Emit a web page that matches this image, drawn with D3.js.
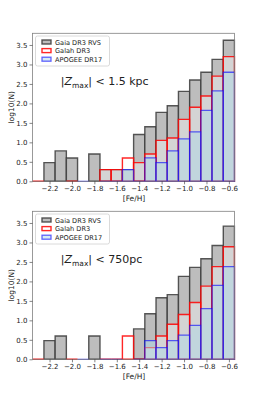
<!DOCTYPE html>
<html>
<head>
<meta charset="utf-8">
<script src="https://cdn.jsdelivr.net/npm/d3@7"></script>
<style>
  body { margin: 0; background: #fff; }
  svg text { font-family: "DejaVu Sans", sans-serif; fill: #222; }
</style>
</head>
<body>
<div id="chart"></div>
<script>
// bin centres in [Fe/H]; each bin is 0.1 dex wide
const binCentres = [-2.3, -2.2, -2.1, -2.0, -1.9, -1.8, -1.7, -1.6, -1.5, -1.4, -1.3, -1.2, -1.1, -1.0, -0.9, -0.8, -0.7, -0.6];
const binWidth = 0.1;

// log10(N) per bin, null = empty bin
const gaia1500 =   [null, 0.48, 0.78, 0.60, null, 0.70, 0.30, 0.30, 0.30, 1.20, 1.40, 1.77, 1.94, 2.31, 2.60, 2.80, 3.13, 3.62];
const galah1500 =  [0,    null, null, 0,    null, null, 0.30, 0.30, 0.60, 0.48, 0.70, 1.05, 1.11, 1.59, 1.90, 2.19, 2.70, 3.20];
const apogee1500 = [null, null, null, null, 0,    null, 0,    0,    0.30, 0,    0.60, 0.48, 0.78, 1.09, 1.27, 1.82, 2.32, 2.80];

const gaia750 =    [null, 0.48, 0.60, null, null, 0.60, null, null, null, 0.78, 1.17, 1.58, 1.66, 2.13, 2.36, 2.58, 2.92, 3.42];
const galah750 =   [0,    null, null, 0,    null, null, 0,    0,    0.60, 0,    0.30, 0.60, 0.90, 1.15, 1.46, 1.88, 2.38, 2.89];
const apogee750 =  [null, null, null, null, 0,    null, 0,    0,    null, 0,    0.48, 0.30, 0.48, 0.62, 0.87, 1.30, 1.90, 2.38];

const xTicks = [-2.2, -2.0, -1.8, -1.6, -1.4, -1.2, -1.0, -0.8, -0.6];
const yTicks = [0.0, 0.5, 1.0, 1.5, 2.0, 2.5, 3.0, 3.5];
const seriesNames = ["Gaia DR3 RVS", "Galah DR3", "APOGEE DR17"];

const W = 260, H = 402;
const svg = d3.select("#chart").append("svg")
    .attr("width", W).attr("height", H);

const styles = [
    { fill: "#bdbdbd", fillOpacity: 1, stroke: "#3a3a3a", strokeOpacity: 0.85, sw: 1.4 },
    { fill: "#ffffff", fillOpacity: 0.35, stroke: "#ff0000", strokeOpacity: 0.85, sw: 1.4 },
    { fill: "#add8e6", fillOpacity: 0.5, stroke: "#0000ff", strokeOpacity: 0.6, sw: 1.3 }
];

const x = d3.scaleLinear().domain([-2.352, -0.55]).range([32.5, 234.5]);

function drawPanel(top, series, label, id) {
    const y = d3.scaleLinear().domain([0, 3.8]).range([top + 148, top]);
    const g = svg.append("g");

    g.append("clipPath").attr("id", "clip" + id)
        .append("rect")
        .attr("x", x.range()[0] - 1).attr("y", top - 1)
        .attr("width", x.range()[1] - x.range()[0] + 2)
        .attr("height", y(0) - top + 2);

    const plot = g.append("g").attr("clip-path", `url(#clip${id})`);

    series.forEach((vals, i) => {
        const st = styles[i];
        const bars = binCentres.map((c, j) => ({ c, v: vals[j] })).filter(d => d.v !== null);
        plot.selectAll(null)
            .data(bars)
            .join("path")
            .attr("d", d => {
                const x0 = x(d.c - binWidth / 2), x1 = x(d.c + binWidth / 2);
                return `M${x0},${y(0)}V${y(d.v)}H${x1}V${y(0)}Z`;
            })
            .attr("fill", st.fill)
            .attr("fill-opacity", st.fillOpacity)
            .attr("stroke", st.stroke)
            .attr("stroke-opacity", st.strokeOpacity)
            .attr("stroke-width", st.sw);
    });

    // frame
    g.append("rect")
        .attr("x", x.range()[0]).attr("y", top)
        .attr("width", x.range()[1] - x.range()[0])
        .attr("height", y(0) - top)
        .attr("fill", "none").attr("stroke", "#808080").attr("stroke-width", 0.8);

    // axes
    const xAxis = g.append("g").attr("transform", `translate(0,${y(0)})`)
        .call(d3.axisBottom(x).tickValues(xTicks).tickSize(3).tickPadding(2)
            .tickFormat(d => d3.format(".1f")(d).replace("-", "\u2212")));
    const yAxis = g.append("g").attr("transform", `translate(${x.range()[0]},0)`)
        .call(d3.axisLeft(y).tickValues(yTicks).tickSize(3).tickPadding(2)
            .tickFormat(d3.format(".1f")));
    [xAxis, yAxis].forEach(a => {
        a.select(".domain").remove();
        a.selectAll(".tick line").attr("stroke", "#333").attr("stroke-width", 0.6);
        a.selectAll(".tick text").attr("font-size", 7).attr("fill", "#222")
            .style("font-family", "DejaVu Sans, sans-serif");
    });

    g.append("text")
        .attr("x", (x.range()[0] + x.range()[1]) / 2 + 0.5)
        .attr("y", y(0) + 20)
        .attr("text-anchor", "middle")
        .attr("font-size", 7.5)
        .text("[Fe/H]");

    g.append("text")
        .attr("transform", `translate(14,${(top + y(0)) / 2}) rotate(-90)`)
        .attr("text-anchor", "middle")
        .attr("font-size", 7.5)
        .text("log10(N)");

    // annotation
    const t = g.append("text")
        .attr("x", x(-2.1)).attr("y", y(2.46))
        .attr("font-size", 11);
    t.append("tspan").text("|");
    t.append("tspan").attr("font-style", "italic").text("Z");
    t.append("tspan").attr("font-size", 7.5).attr("dy", 2.5).text("max");
    t.append("tspan").attr("dy", -2.5).text("| < " + label);

    // legend
    const lg = g.append("g").attr("transform", `translate(${x.range()[0] + 3},${top + 2.7})`);
    lg.append("rect")
        .attr("width", 74).attr("height", 30).attr("rx", 2)
        .attr("fill", "#fff").attr("fill-opacity", 0.8)
        .attr("stroke", "#d0d0d0").attr("stroke-width", 0.8);
    seriesNames.forEach((name, i) => {
        const st = styles[i];
        const row = lg.append("g").attr("transform", `translate(0,${6 + i * 8.6})`);
        row.append("rect")
            .attr("x", 6.5).attr("y", -2).attr("width", 9).attr("height", 4)
            .attr("fill", st.fill).attr("fill-opacity", st.fillOpacity)
            .attr("stroke", st.stroke).attr("stroke-opacity", st.strokeOpacity)
            .attr("stroke-width", st.sw);
        row.append("text")
            .attr("x", 19.5).attr("y", 2.5)
            .attr("font-size", 6.6)
            .text(name);
    });
}

drawPanel(33.3, [gaia1500, galah1500, apogee1500], "1.5 kpc", "a");
drawPanel(211.3, [gaia750, galah750, apogee750], "750pc", "b");
</script>
</body>
</html>
